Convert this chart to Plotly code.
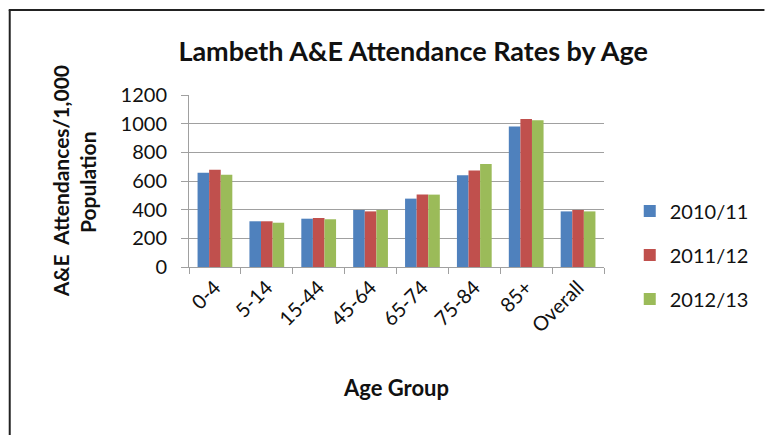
import plotly.graph_objects as go

categories = ["0-4", "5-14", "15-44", "45-64", "65-74", "75-84", "85+", "Overall"]
series_names = ["2010/11", "2011/12", "2012/13"]
v2010 = [658, 319, 337, 398, 477, 640, 981, 388]
v2011 = [679, 319, 342, 388, 505, 674, 1033, 398]
v2012 = [644, 309, 333, 398, 505, 719, 1023, 388]
colors = ["#4F81BD", "#C0504D", "#9BBB59"]
y_ticks = [0, 200, 400, 600, 800, 1000, 1200]

FONT = "Lato"
fig = go.Figure()
for i, (name, vals) in enumerate(zip(series_names, [v2010, v2011, v2012])):
    fig.add_trace(go.Bar(x=categories, y=vals, name=name, marker_color=colors[i],
                         marker_line_width=0, legendgroup=name))

W, H = 766, 435
L, R, T, B = 189, 158, 95, 168
pw, ph = W - L - R, H - T - B

def px(x):
    return (x - L) / pw

def py(y):
    return (H - B - y) / ph

fig.update_layout(
    width=W, height=H,
    margin=dict(l=L, r=R, t=T, b=B),
    paper_bgcolor="white", plot_bgcolor="white",
    barmode="group", bargap=0.33, bargroupgap=0,
    font=dict(family=FONT, color="#222222"),
    title=dict(text="<b>Lambeth A&E Attendance Rates by Age</b>", x=px(415), xanchor="center",
               y=1 - 52 / H, yanchor="middle", font=dict(size=27, family=FONT, color="#111111")),
    legend=dict(x=px(634), y=py(255), xanchor="left", yanchor="middle",
                font=dict(size=20, family=FONT, color="#111111"), tracegroupgap=15,
                itemwidth=30),
    showlegend=True,
)
fig.update_xaxes(
    type="category", tickangle=-45, tickfont=dict(size=20, family=FONT, color="#111111"),
    showline=True, linecolor="#A0A0A0", linewidth=1,
    ticks="outside", tickson="boundaries", ticklen=6, tickcolor="#A0A0A0",
    title=dict(text="<b>Age Group</b>", font=dict(size=22, family=FONT, color="#111111"), standoff=45),
)
fig.update_yaxes(
    range=[0, 1200], tickvals=y_ticks, tickfont=dict(size=20, family=FONT, color="#111111"),
    showgrid=True, gridcolor="#A0A0A0", gridwidth=1,
    showline=True, linecolor="#A0A0A0", linewidth=1,
    ticks="outside", ticklen=7, tickcolor="#A0A0A0", zeroline=False,
    ticklabelstandoff=10,
)
fig.add_annotation(text="<b>A&E  Attendances/1,000</b>", xref="paper", yref="paper",
                   x=px(59), y=py(181), xanchor="center", yanchor="middle", textangle=-90,
                   showarrow=False, font=dict(size=21, family=FONT, color="#111111"))
fig.add_annotation(text="<b>Population</b>", xref="paper", yref="paper",
                   x=px(86), y=py(182), xanchor="center", yanchor="middle", textangle=-90,
                   showarrow=False, font=dict(size=21, family=FONT, color="#111111"))
fig.add_shape(type="line", xref="paper", yref="paper", x0=px(7), x1=px(770), y0=py(10), y1=py(10),
              line=dict(color="#222222", width=2))
fig.add_shape(type="line", xref="paper", yref="paper", x0=px(8), x1=px(8), y0=py(10), y1=py(440),
              line=dict(color="#222222", width=2))

fig.write_html("out.html")
